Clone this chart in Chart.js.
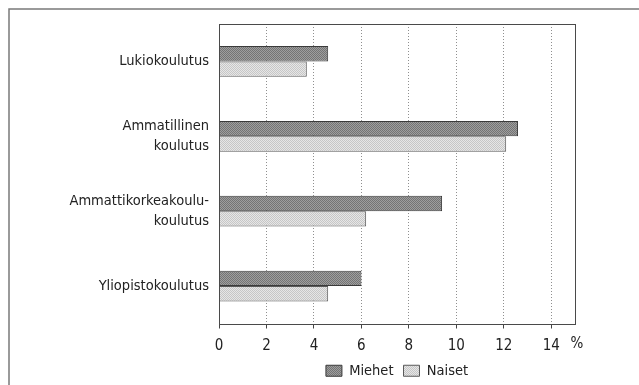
<!DOCTYPE html>
<html>
<head>
<meta charset="utf-8">
<script src="https://cdn.jsdelivr.net/npm/chart.js@4/dist/chart.umd.min.js"></script>
<style>
  html, body { margin: 0; padding: 0; background: #fff; }
  #wrap { position: relative; width: 639px; height: 385px; }
</style>
</head>
<body>
<div id="wrap"><canvas id="c" width="639" height="385"></canvas></div>
<script>
// Education levels (y categories)
const categories = [
  'Lukiokoulutus',
  ['Ammatillinen', 'koulutus'],
  ['Ammattikorkeakoulu-', 'koulutus'],
  'Yliopistokoulutus'
];
// Percentages per group
const miehet = [4.6, 12.6, 9.4, 6.0];
const naiset = [3.7, 12.1, 6.2, 4.6];
const seriesNames = ['Miehet', 'Naiset'];
// Value axis ticks
const tickValues = [0, 2, 4, 6, 8, 10, 12, 14];
const unitLabel = '%';

const FONT = "'DejaVu Sans Condensed', 'DejaVu Sans', sans-serif";

// Fine stipple fills for the bars
function stipple(a, b) {
  const c = document.createElement('canvas');
  c.width = 2; c.height = 2;
  const g = c.getContext('2d');
  g.fillStyle = a; g.fillRect(0, 0, 2, 2);
  g.fillStyle = b; g.fillRect(0, 0, 1, 1); g.fillRect(1, 1, 1, 1);
  return g.createPattern(c, 'repeat');
}
const fillDark = stipple('#9e9e9e', '#747474');
const fillLight = stipple('#e6e6e6', '#c6c6c6');

// Outer frame, plot box and unit label
const framePlugin = {
  id: 'frame',
  beforeDraw(chart) {
    const ctx = chart.ctx;
    ctx.save();
    ctx.fillStyle = '#fff';
    ctx.fillRect(0, 0, chart.width, chart.height);
    ctx.strokeStyle = '#7a7a7a';
    ctx.lineWidth = 1.5;
    ctx.beginPath();
    ctx.moveTo(9, chart.height + 2);
    ctx.lineTo(9, 9);
    ctx.lineTo(chart.width + 2, 9);
    ctx.stroke();
    ctx.restore();
  },
  afterDraw(chart) {
    const ctx = chart.ctx;
    const a = chart.chartArea;
    ctx.save();
    ctx.strokeStyle = '#4a4a4a';
    ctx.lineWidth = 1;
    ctx.strokeRect(Math.round(a.left) + 0.5, Math.round(a.top) + 0.5,
                   Math.round(a.right - a.left), Math.round(a.bottom - a.top));
    ctx.fillStyle = '#222';
    ctx.font = '15px ' + FONT;
    ctx.textAlign = 'center';
    ctx.textBaseline = 'middle';
    ctx.fillText(unitLabel, a.right + 2, a.bottom + 21);
    ctx.restore();
  }
};

new Chart(document.getElementById('c'), {
  type: 'bar',
  data: {
    labels: categories,
    datasets: [
      { label: seriesNames[0], data: miehet, backgroundColor: fillDark,
        borderColor: '#3a3a3a', borderWidth: 1 },
      { label: seriesNames[1], data: naiset, backgroundColor: fillLight,
        borderColor: '#5a5a5a', borderWidth: 1 }
    ]
  },
  options: {
    indexAxis: 'y',
    responsive: false,
    animation: false,
    devicePixelRatio: 1,
    categoryPercentage: 0.41,
    barPercentage: 1.0,
    layout: { padding: { top: 24, right: 64, left: 0, bottom: -3 } },
    plugins: {
      tooltip: { enabled: false },
      legend: {
        position: 'bottom',
        fullSize: false,
        labels: {
          font: { family: FONT, size: 14.5 },
          color: '#222',
          boxWidth: 16,
          boxHeight: 11,
          padding: 10
        }
      }
    },
    scales: {
      x: {
        min: 0,
        max: 15,
        afterBuildTicks(scale) {
          scale.ticks = tickValues.map(v => ({ value: v }));
        },
        afterFit(scale) { scale.height = 30; },
        grid: {
          color: '#8f8f8f',
          lineWidth: 1,
          drawTicks: true,
          tickLength: 5,
          tickColor: '#444',
          tickBorderDash: []
        },
        border: { display: false, dash: [1, 2] },
        ticks: {
          font: { family: FONT, size: 15 },
          color: '#222',
          padding: 9,
          maxRotation: 0
        }
      },
      y: {
        afterFit(scale) { scale.width = 219; },
        grid: { display: false, drawTicks: false },
        border: { display: false },
        ticks: {
          font: { family: FONT, size: 14.5, lineHeight: 1.35 },
          color: '#222',
          padding: 10
        }
      }
    }
  },
  plugins: [framePlugin]
});
</script>
</body>
</html>
